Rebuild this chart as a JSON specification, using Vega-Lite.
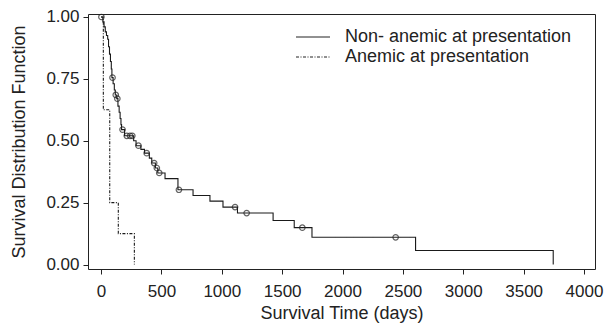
{
  "$schema": "https://vega.github.io/schema/vega-lite/v6.json",
  "width": 507,
  "height": 255,
  "autosize": "none",
  "padding": {"left": 88, "top": 14, "right": 9, "bottom": 55},
  "background": "white",
  "config": {
    "font": "Liberation Sans",
    "view": {"stroke": "#222", "strokeWidth": 1},
    "axis": {
      "grid": false,
      "domain": false,
      "tickColor": "#222",
      "tickSize": 5,
      "tickWidth": 1,
      "labelColor": "#222",
      "labelFontSize": 17,
      "titleColor": "#222",
      "titleFontSize": 18,
      "titleFontWeight": "normal",
      "labelFont": "Liberation Sans",
      "titleFont": "Liberation Sans"
    },
    "legend": {"labelFont": "Liberation Sans"}
  },
  "datasets": {
    "curves": [
      {"group": "Non- anemic at presentation", "day": 0, "surv": 1.0},
      {"group": "Non- anemic at presentation", "day": 15, "surv": 0.98},
      {"group": "Non- anemic at presentation", "day": 25, "surv": 0.96},
      {"group": "Non- anemic at presentation", "day": 35, "surv": 0.94},
      {"group": "Non- anemic at presentation", "day": 45, "surv": 0.925},
      {"group": "Non- anemic at presentation", "day": 55, "surv": 0.91},
      {"group": "Non- anemic at presentation", "day": 62, "surv": 0.88},
      {"group": "Non- anemic at presentation", "day": 70, "surv": 0.85},
      {"group": "Non- anemic at presentation", "day": 78, "surv": 0.82},
      {"group": "Non- anemic at presentation", "day": 85, "surv": 0.79},
      {"group": "Non- anemic at presentation", "day": 90, "surv": 0.755},
      {"group": "Non- anemic at presentation", "day": 100, "surv": 0.73},
      {"group": "Non- anemic at presentation", "day": 110, "surv": 0.705},
      {"group": "Non- anemic at presentation", "day": 118, "surv": 0.685},
      {"group": "Non- anemic at presentation", "day": 130, "surv": 0.67},
      {"group": "Non- anemic at presentation", "day": 140, "surv": 0.64},
      {"group": "Non- anemic at presentation", "day": 150, "surv": 0.615},
      {"group": "Non- anemic at presentation", "day": 158, "surv": 0.59},
      {"group": "Non- anemic at presentation", "day": 165, "surv": 0.565},
      {"group": "Non- anemic at presentation", "day": 170, "surv": 0.545},
      {"group": "Non- anemic at presentation", "day": 195, "surv": 0.52},
      {"group": "Non- anemic at presentation", "day": 270, "surv": 0.5},
      {"group": "Non- anemic at presentation", "day": 290, "surv": 0.48},
      {"group": "Non- anemic at presentation", "day": 330, "surv": 0.465},
      {"group": "Non- anemic at presentation", "day": 360, "surv": 0.45},
      {"group": "Non- anemic at presentation", "day": 400, "surv": 0.43},
      {"group": "Non- anemic at presentation", "day": 420, "surv": 0.41},
      {"group": "Non- anemic at presentation", "day": 450, "surv": 0.39},
      {"group": "Non- anemic at presentation", "day": 470, "surv": 0.37},
      {"group": "Non- anemic at presentation", "day": 530, "surv": 0.347},
      {"group": "Non- anemic at presentation", "day": 637, "surv": 0.302},
      {"group": "Non- anemic at presentation", "day": 762, "surv": 0.279},
      {"group": "Non- anemic at presentation", "day": 902, "surv": 0.256},
      {"group": "Non- anemic at presentation", "day": 1010, "surv": 0.232},
      {"group": "Non- anemic at presentation", "day": 1130, "surv": 0.208},
      {"group": "Non- anemic at presentation", "day": 1425, "surv": 0.178},
      {"group": "Non- anemic at presentation", "day": 1600, "surv": 0.149},
      {"group": "Non- anemic at presentation", "day": 1747, "surv": 0.11},
      {"group": "Non- anemic at presentation", "day": 2605, "surv": 0.057},
      {"group": "Non- anemic at presentation", "day": 3745, "surv": 0.0},
      {"group": "Anemic at presentation", "day": 0, "surv": 1.0},
      {"group": "Anemic at presentation", "day": 19, "surv": 0.625},
      {"group": "Anemic at presentation", "day": 72, "surv": 0.25},
      {"group": "Anemic at presentation", "day": 143, "surv": 0.125},
      {"group": "Anemic at presentation", "day": 276, "surv": 0.0}
    ],
    "censor": [
      {"day": 3, "surv": 1.0},
      {"day": 95, "surv": 0.755},
      {"day": 122, "surv": 0.685},
      {"day": 135, "surv": 0.67},
      {"day": 178, "surv": 0.545},
      {"day": 213, "surv": 0.52},
      {"day": 240, "surv": 0.52},
      {"day": 259, "surv": 0.52},
      {"day": 310, "surv": 0.48},
      {"day": 378, "surv": 0.45},
      {"day": 440, "surv": 0.41},
      {"day": 462, "surv": 0.39},
      {"day": 482, "surv": 0.37},
      {"day": 645, "surv": 0.302},
      {"day": 1110, "surv": 0.232},
      {"day": 1206, "surv": 0.208},
      {"day": 1667, "surv": 0.149},
      {"day": 2440, "surv": 0.11}
    ]
  },
  "layer": [
    {
      "data": {"name": "curves"},
      "mark": {"type": "line", "interpolate": "step-after", "strokeWidth": 1.1, "color": "#1a1a1a"},
      "encoding": {
        "x": {
          "field": "day", "type": "quantitative",
          "scale": {"domain": [-108, 4091], "nice": false, "zero": false},
          "axis": {"values": [0, 500, 1000, 1500, 2000, 2500, 3000, 3500, 4000], "format": "d", "title": "Survival Time (days)", "labelPadding": 9, "titlePadding": 5, "labelFlush": false}
        },
        "y": {
          "field": "surv", "type": "quantitative",
          "scale": {"domain": [-0.018, 1.012], "nice": false, "zero": false},
          "axis": {"values": [0, 0.25, 0.5, 0.75, 1], "format": ".2f", "title": "Survival Distribution Function", "labelPadding": 4, "titlePadding": 17, "labelFlush": false}
        },
        "strokeDash": {
          "field": "group", "type": "nominal",
          "scale": {"domain": ["Non- anemic at presentation", "Anemic at presentation"], "range": [[1, 0], [3, 1.5, 1, 1.5]]},
          "legend": {
            "title": null,
            "orient": "none",
            "legendX": 216,
            "legendY": 14,
            "padding": 0,
            "symbolType": "M-2,0H2",
            "symbolSize": 289,
            "symbolStrokeWidth": 1,
            "symbolStrokeColor": "#222",
            "symbolFillColor": "transparent",
            "labelFontSize": 18,
            "labelColor": "#222",
            "labelOffset": 23,
            "labelLimit": 0,
            "rowPadding": 2
          }
        }
      }
    },
    {
      "data": {"name": "censor"},
      "mark": {"type": "point", "filled": false, "size": 30, "strokeWidth": 1.2, "color": "#222"},
      "encoding": {
        "x": {"field": "day", "type": "quantitative"},
        "y": {"field": "surv", "type": "quantitative"}
      }
    }
  ]
}
